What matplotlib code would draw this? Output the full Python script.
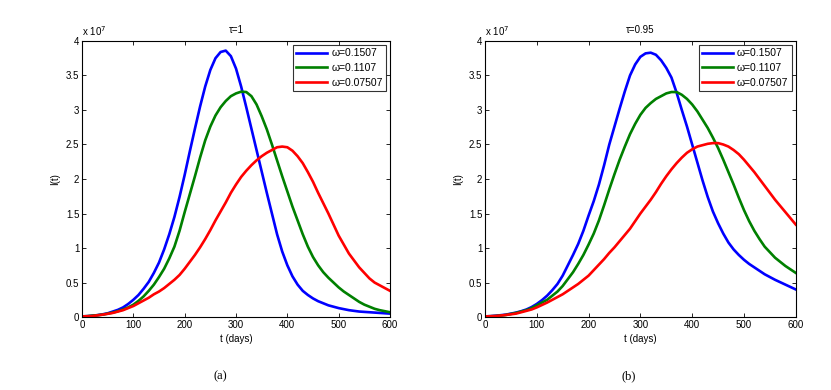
import numpy as np
import matplotlib.pyplot as plt

plt.rcParams['font.family'] = ['Liberation Sans', 'DejaVu Sans']

# time axis (days)
t = np.arange(0, 601, 10)

legend_labels = ['\u03c9=0.1507', '\u03c9=0.1107', '\u03c9=0.07507']
colors = ['#0000ff', '#008000', '#ff0000']

# I(t) in units of 1e7, tau = 1
a_w1507 = [0.01, 0.013, 0.02, 0.028, 0.04, 0.055, 0.08, 0.105, 0.14, 0.19,
           0.25, 0.32, 0.41, 0.51, 0.64, 0.79, 0.98, 1.2, 1.45, 1.74,
           2.06, 2.4, 2.73, 3.05, 3.34, 3.58, 3.75, 3.84, 3.86, 3.78,
           3.6, 3.34, 3.04, 2.73, 2.42, 2.11, 1.8, 1.5, 1.2, 0.95,
           0.75, 0.59, 0.47, 0.38, 0.32, 0.27, 0.23, 0.2, 0.17, 0.15,
           0.13, 0.115, 0.1, 0.09, 0.08, 0.075, 0.07, 0.065, 0.06, 0.055,
           0.05]
a_w1107 = [0.01, 0.013, 0.02, 0.027, 0.035, 0.05, 0.065, 0.085, 0.11, 0.14,
           0.18, 0.235, 0.3, 0.38, 0.47, 0.58, 0.7, 0.85, 1.02, 1.25,
           1.52, 1.78, 2.04, 2.31, 2.56, 2.76, 2.92, 3.04, 3.13, 3.2,
           3.24, 3.265, 3.26, 3.2, 3.08, 2.91, 2.72, 2.5, 2.27, 2.04,
           1.82, 1.6, 1.4, 1.2, 1.02, 0.87, 0.75, 0.65, 0.57, 0.5,
           0.43, 0.37, 0.32, 0.27, 0.22, 0.18, 0.15, 0.12, 0.1, 0.085,
           0.07]
a_w07507 = [0.01, 0.012, 0.015, 0.025, 0.035, 0.047, 0.06, 0.08, 0.1, 0.13,
            0.16, 0.2, 0.24, 0.28, 0.33, 0.37, 0.42, 0.48, 0.54, 0.61,
            0.7, 0.8, 0.9, 1.01, 1.13, 1.26, 1.4, 1.53, 1.66, 1.8,
            1.92, 2.03, 2.12, 2.2, 2.27, 2.33, 2.38, 2.42, 2.46, 2.47,
            2.46, 2.41, 2.33, 2.23, 2.1, 1.96, 1.8, 1.65, 1.5, 1.34,
            1.18, 1.05, 0.92, 0.82, 0.72, 0.64, 0.56, 0.5, 0.46, 0.42,
            0.38]

# I(t) in units of 1e7, tau = 0.95
b_w1507 = [0.01, 0.013, 0.02, 0.027, 0.035, 0.05, 0.065, 0.085, 0.11, 0.145,
           0.19, 0.245, 0.31, 0.39, 0.48, 0.6, 0.75, 0.9, 1.06, 1.25,
           1.47, 1.68, 1.92, 2.2, 2.5, 2.76, 3.02, 3.27, 3.5, 3.66,
           3.77, 3.82, 3.83, 3.8, 3.72, 3.61, 3.47, 3.25, 3.0, 2.76,
           2.5, 2.24, 1.98, 1.74, 1.53, 1.36, 1.21, 1.08, 0.98, 0.9,
           0.83, 0.77, 0.72, 0.67, 0.62, 0.58, 0.54, 0.505, 0.47, 0.435,
           0.4]
b_w1107 = [0.01, 0.012, 0.015, 0.022, 0.03, 0.045, 0.06, 0.08, 0.1, 0.13,
           0.17, 0.21, 0.25, 0.31, 0.37, 0.45, 0.55, 0.65, 0.77, 0.9,
           1.05, 1.21, 1.4, 1.62, 1.85, 2.07, 2.28, 2.47, 2.65, 2.8,
           2.93, 3.03, 3.1, 3.16, 3.2, 3.24, 3.26, 3.26, 3.22, 3.16,
           3.08, 2.98, 2.86, 2.74, 2.6, 2.45, 2.28, 2.1, 1.92, 1.73,
           1.55, 1.39, 1.25, 1.13, 1.02, 0.94, 0.86, 0.8, 0.74, 0.69,
           0.64]
b_w07507 = [0.01, 0.012, 0.015, 0.022, 0.03, 0.04, 0.05, 0.07, 0.09, 0.11,
            0.14, 0.175, 0.21, 0.25, 0.29, 0.33, 0.38, 0.43, 0.48, 0.54,
            0.6, 0.68, 0.76, 0.84, 0.93, 1.01, 1.1, 1.19, 1.28, 1.39,
            1.5, 1.6, 1.7, 1.81, 1.93, 2.04, 2.14, 2.23, 2.31, 2.38,
            2.43, 2.47, 2.49, 2.51, 2.52, 2.52, 2.5, 2.47, 2.42, 2.36,
            2.28, 2.19, 2.1, 2.0, 1.9, 1.8, 1.7, 1.61, 1.52, 1.43,
            1.34]

panels = [
    ('\u03c4=1', '(a)', [a_w1507, a_w1107, a_w07507]),
    ('\u03c4=0.95', '(b)', [b_w1507, b_w1107, b_w07507]),
]

yticks = np.arange(0, 4.01, 0.5)
ytick_labels = ['0', '0.5', '1', '1.5', '2', '2.5', '3', '3.5', '4']
xticks = np.arange(0, 601, 100)

fig = plt.figure(figsize=(8.31, 3.9), dpi=100)
ax_pos = [[0.0987, 0.187, 0.3706, 0.708], [0.5836, 0.187, 0.374, 0.708]]
sub_x = [0.265, 0.757]

for i, (title, sub, series) in enumerate(panels):
    ax = fig.add_axes(ax_pos[i])
    for y, c, lab in zip(series, colors, legend_labels):
        ax.plot(t, y, color=c, lw=1.9, label=lab)
    ax.set_xlim(0, 600)
    ax.set_ylim(0, 4)
    ax.set_xticks(xticks)
    ax.set_yticks(yticks)
    ax.set_yticklabels(ytick_labels)
    ax.tick_params(direction='in', top=True, right=True, labelsize=7,
                   length=3, width=0.6, pad=2)
    for s in ax.spines.values():
        s.set_linewidth(0.8)
    ax.set_title(title, fontsize=7, pad=6)
    ax.text(0.0, 1.012, r'x 10$^7$', transform=ax.transAxes, fontsize=7,
            ha='left', va='bottom')
    ax.set_xlabel('t (days)', fontsize=7, labelpad=3)
    ax.set_ylabel('I(t)', fontsize=7, labelpad=4)
    leg = ax.legend(loc='upper right', fontsize=7.5, handlelength=3.0,
                    frameon=True, fancybox=False, borderaxespad=0.4,
                    labelspacing=0.45, handletextpad=0.4, borderpad=0.3)
    leg.get_frame().set_edgecolor('black')
    leg.get_frame().set_linewidth(0.8)
    fig.text(sub_x[i], 0.02, sub, fontsize=9, family='Liberation Serif',
             ha='center', va='bottom')

fig.savefig('out.png', dpi=100)
